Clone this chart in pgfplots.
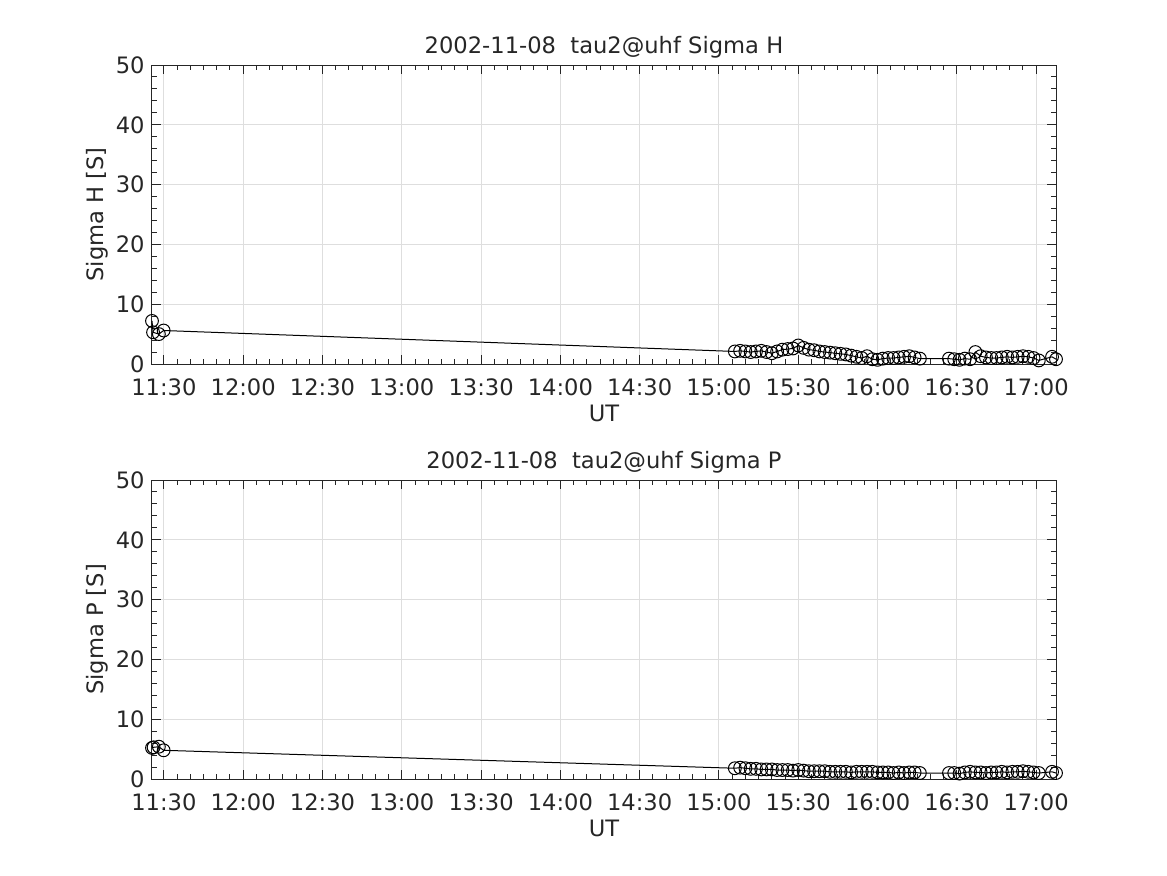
\documentclass[border=0pt]{standalone}
\usepackage{fontspec}
\setmainfont{DejaVu Sans}
\usepackage{pgfplots}
\pgfplotsset{compat=1.18}
\definecolor{txt}{gray}{0.15}
\definecolor{grd}{gray}{0.87}
\pgfplotstableread{
t v
-4.5 7.2
-4.1 5.3
-1.9 5.0
-0.1 5.6
216 2.1
218 2.2
220 2.1
222 2.0
224 2.1
226 2.2
228 2.0
230 1.8
232 2.1
234 2.4
236 2.5
238 2.6
240 3.1
242 2.7
244 2.4
246 2.3
248 2.1
250 2.0
252 1.9
254 1.8
256 1.7
258 1.6
260 1.4
262 1.2
264 1.0
266 1.3
268 0.8
270 0.7
272 0.9
274 1.0
276 1.0
278 1.1
280 1.2
282 1.3
284 1.1
286 0.9
297 0.9
299 0.8
301 0.7
303 0.9
305 0.8
307 2.0
309 1.3
311 1.1
313 1.0
315 1.0
317 1.1
319 1.2
321 1.1
323 1.2
325 1.3
327 1.2
329 1.0
331 0.6
336 1.2
337.5 0.8
}\sigH
\pgfplotstableread{
t v
-4.5 5.2
-3.9 5.3
-1.9 5.4
-0.1 4.8
216 1.8
218 1.9
220 1.8
222 1.7
224 1.7
226 1.6
228 1.6
230 1.6
232 1.5
234 1.5
236 1.5
238 1.4
240 1.5
242 1.4
244 1.3
246 1.3
248 1.3
250 1.3
252 1.2
254 1.2
256 1.2
258 1.2
260 1.1
262 1.2
264 1.2
266 1.2
268 1.2
270 1.1
272 1.1
274 1.1
276 1.0
278 1.1
280 1.0
282 1.1
284 1.1
286 1.0
297 1.0
299 1.0
301 0.9
303 1.1
305 1.2
307 1.1
309 1.1
311 1.0
313 1.1
315 1.1
317 1.2
319 1.1
321 1.2
323 1.2
325 1.3
327 1.2
329 1.1
331 1.0
336 1.2
337.5 1.0
}\sigP
\pgfplotsset{
 myax/.style={
  scale only axis, width=452pt, height=149.5pt,
  anchor=south west,
  xmin=-4.5, xmax=337.5, ymin=0, ymax=50,
  xtick={0,30,...,330},
  xticklabels={11:30,12:00,12:30,13:00,13:30,14:00,14:30,15:00,15:30,16:00,16:30,17:00},
  ytick={0,10,...,50},
  minor x tick num=5, minor y tick num=4,
  grid=major, major grid style={grd, line width=0.5pt},
  tick align=inside,
  major tick length=4.5pt, minor tick length=2.5pt,
  every tick/.style={txt, line width=0.5pt},
  axis line style={txt, line width=0.5pt},
  tick label style={txt},
  xticklabel style={anchor=base, yshift=-15.5pt},
  yticklabel style={anchor=east, inner sep=0pt, xshift=-3.5pt},
  /pgf/number format/assume math mode=true,
  xlabel=UT,
  xlabel style={txt, at={(axis description cs:0.5,0)}, anchor=base, yshift=-28.5pt},
  ylabel style={txt, at={(axis description cs:-0.0608,0.5)}, anchor=center},
  title style={txt, at={(axis description cs:0.5,1)}, anchor=base, yshift=0pt},
  clip=false,
 },
 myplot/.style={black, line width=0.5pt, mark=o, mark size=3.2pt, mark options={line width=0.5pt}}
}
\begin{document}
\fontsize{11.3}{13.5}\selectfont
\begin{tikzpicture}
\path[use as bounding box] (0pt,0pt) rectangle (583.5pt,437.5pt);
\begin{axis}[myax, at={(76pt,255.5pt)}, title={2002-11-08\ \ tau2@uhf Sigma H}, ylabel={Sigma H [S]}]
\addplot[myplot] table[x=t,y=v] {\sigH};
\end{axis}
\begin{axis}[myax, at={(76pt,48pt)}, title={2002-11-08\ \ tau2@uhf Sigma P}, ylabel={Sigma P [S]}]
\addplot[myplot] table[x=t,y=v] {\sigP};
\end{axis}
\end{tikzpicture}
\end{document}
